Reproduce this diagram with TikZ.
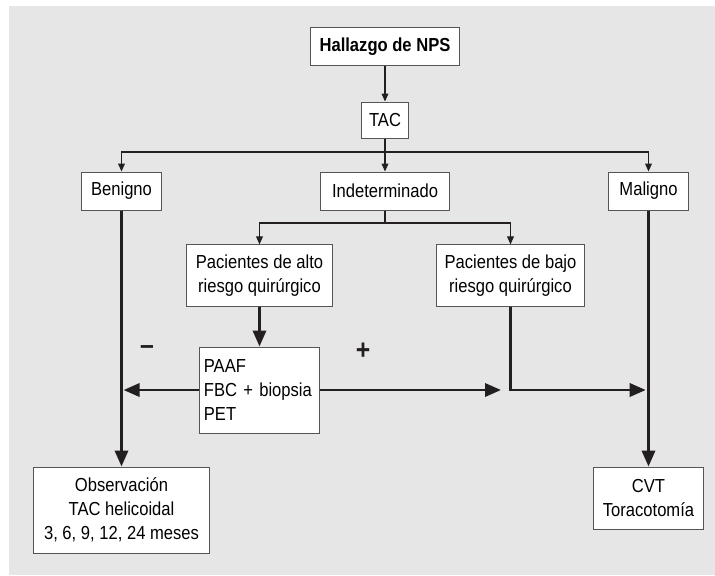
\documentclass[tikz,border=0pt]{standalone}
\usepackage{xcolor}
\usepackage{fontspec}
\setmainfont{Liberation Sans}[FakeStretch=0.88]
\usepackage{tikz}
\usetikzlibrary{arrows.meta, positioning}
\definecolor{nps-panel}{HTML}{E6E6E6}
\definecolor{nps-border}{HTML}{555555}
\definecolor{nps-line}{HTML}{231F20}

\begin{document}
\begin{tikzpicture}[
		x=0.025cm, y=-0.025cm,
		box/.style={
			draw=nps-border, fill=white,
			line width=0.7pt,
			inner sep=0pt, align=center,
			font=\fontsize{13.4}{17}\selectfont
		},
		thinarrow/.style={
			draw=nps-line, line width=0.8pt,
			-{Triangle[length=0.2cm, width=0.17cm]}
		},
		thinline/.style={
			draw=nps-line, line width=0.8pt
		},
		thickarrow/.style={
			draw=nps-line, line width=2pt,
			-{Triangle[length=0.4cm, width=0.33cm]}
		},
		sign/.style={
			font=\fontsize{20}{20}\selectfont\bfseries, text=nps-line
		}
		]
		
		% fondo gris
		\useasboundingbox (0,0) rectangle (715,575);
		\fill[nps-panel] (9,6) rectangle (715,575);
		
		% nivel 1 - hallazgo y TAC
		\node[box, minimum width=3.73cm, minimum height=0.93cm, font=\fontsize{13.4}{17}\selectfont\bfseries] (hallazgo) at (385,46.5) {Hallazgo de NPS};
		\node[box, minimum width=1.18cm, minimum height=0.9cm] (tac) at (385,120) {TAC};
		
		% nivel 2 - resultado de la TAC
		\node[box, minimum width=1.98cm, minimum height=0.95cm] (benigno) at (121.5,191) {Benigno};
		\node[box, minimum width=3.2cm, minimum height=0.95cm] (indet) at (385,191) {Indeterminado};
		\node[box, minimum width=1.98cm, minimum height=0.95cm] (maligno) at (648.5,191) {Maligno};
		
		% nivel 3 - riesgo quirurgico
		\node[box, minimum width=3.63cm, minimum height=1.53cm] (alto) at (259.5,275.5) {Pacientes de alto\\riesgo quirúrgico};
		\node[box, minimum width=3.68cm, minimum height=1.53cm] (bajo) at (510.5,275.5) {Pacientes de bajo\\riesgo quirúrgico};
		
		% pruebas
		\node[box, text width=2.78cm, inner xsep=0.1cm, minimum height=2.15cm, align=left] (paaf) at (259.5,390) {PAAF\\FBC + biopsia\\PET};
		\node[sign] (menos) at (147,350) {–};
		\node[sign] (mas) at (363,351) {+};
		
		% conducta final
		\node[box, minimum width=4.38cm, minimum height=2.15cm] (observ) at (121.5,510) {Observación\\TAC helicoidal\\3, 6, 9, 12, 24 meses};
		\node[box, minimum width=2.75cm, minimum height=1.55cm] (cvt) at (648.5,498) {CVT\\Toracotomía};
		
		% conectores finos
		\coordinate (split1) at (385,152);
		\coordinate (split2) at (385,223);
		\draw[thinarrow] (hallazgo) -- (tac);
		\draw[thinline] (tac) -- (split1);
		\draw[thinarrow] (split1) -| (benigno);
		\draw[thinarrow] (split1) -- (indet);
		\draw[thinarrow] (split1) -| (maligno);
		\draw[thinline] (indet) -- (split2);
		\draw[thinarrow] (split2) -| (alto);
		\draw[thinarrow] (split2) -| (bajo);
		
		% conectores gruesos
		\coordinate (posend) at (501,390);
		\draw[thickarrow] (alto) -- (paaf);
		\draw[thickarrow] (benigno) -- (observ);
		\draw[thickarrow] (maligno) -- (cvt);
		\draw[thickarrow, shorten >=1.5pt] (paaf.west) -- (paaf.west -| benigno.south);
		\draw[thickarrow] (paaf.east) -- (posend);
		\draw[thickarrow, shorten >=2pt] (bajo.south) |- (maligno.south |- paaf);
		
	\end{tikzpicture}
\end{document}
